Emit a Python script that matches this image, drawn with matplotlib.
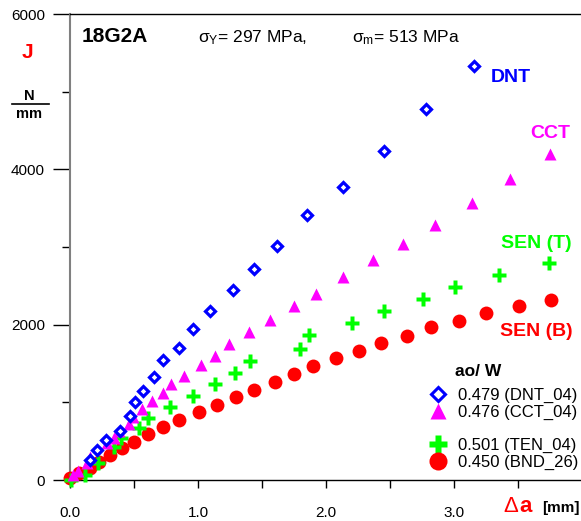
import matplotlib
matplotlib.use("Agg")
import matplotlib.pyplot as plt
from matplotlib.lines import Line2D
from matplotlib.ticker import MultipleLocator, FormatStrFormatter

plt.rcParams['font.family'] = ['Liberation Sans', 'DejaVu Sans']
plt.rcParams['mathtext.fontset'] = 'custom'
plt.rcParams['mathtext.rm'] = 'Liberation Sans'
plt.rcParams['mathtext.it'] = 'Liberation Sans'

# crack growth da [mm] vs J integral [N/mm]
dnt_da = [0.16, 0.21, 0.28, 0.39, 0.47, 0.51, 0.57, 0.66, 0.73, 0.85, 0.96, 1.09,
          1.27, 1.44, 1.62, 1.85, 2.13, 2.45, 2.78, 3.16]
dnt_j = [260, 380, 510, 630, 830, 1000, 1150, 1330, 1540, 1700, 1950, 2180,
         2440, 2720, 3010, 3410, 3770, 4230, 4780, 5330]

cct_da = [0.02, 0.06, 0.13, 0.16, 0.29, 0.34, 0.38, 0.46, 0.49, 0.56, 0.64, 0.73,
          0.79, 0.89, 1.02, 1.13, 1.24, 1.40, 1.56, 1.75, 1.92, 2.13, 2.37, 2.60,
          2.85, 3.14, 3.44, 3.75]
cct_j = [60, 110, 215, 300, 475, 545, 630, 720, 815, 920, 1020, 1125,
         1230, 1345, 1485, 1595, 1750, 1900, 2060, 2240, 2400, 2610, 2830, 3045,
         3280, 3570, 3870, 4200]

ten_da = [0.01, 0.12, 0.22, 0.34, 0.40, 0.54, 0.61, 0.78, 0.96, 1.13, 1.29, 1.41,
          1.80, 1.87, 2.20, 2.45, 2.76, 3.01, 3.35, 3.74]
ten_j = [0, 60, 220, 425, 545, 665, 800, 940, 1080, 1230, 1380, 1535,
         1690, 1865, 2020, 2175, 2330, 2490, 2640, 2790]

bnd_da = [0.00, 0.07, 0.16, 0.23, 0.31, 0.41, 0.50, 0.61, 0.73, 0.85, 1.01, 1.15,
          1.30, 1.44, 1.60, 1.75, 1.90, 2.08, 2.26, 2.43, 2.63, 2.82, 3.04, 3.25,
          3.51, 3.76]
bnd_j = [30, 85, 160, 235, 320, 410, 495, 590, 680, 775, 870, 965,
         1065, 1165, 1265, 1365, 1465, 1565, 1660, 1765, 1855, 1965, 2045, 2145,
         2235, 2315]

legend_labels = ['0.479 (DNT_04)', '0.476 (CCT_04)', '0.501 (TEN_04)', '0.450 (BND_26)']

BLUE = '#0000ff'
MAGENTA = '#ff00ff'
GREEN = '#00ff00'
RED = '#ff0000'

W, H = 581, 521
fig = plt.figure(figsize=(W / 100, H / 100), dpi=100)
ax = fig.add_axes([70 / W, 41 / H, 511 / W, 466 / H])


def fx(px):
    return px / W


def fy(py):
    return 1 - py / H


ax.plot(bnd_da, bnd_j, 'o', color=RED, ms=10, mec='none', clip_on=False, zorder=3)
ax.plot(ten_da, ten_j, 'P', color=GREEN, ms=9.5, mec='none', clip_on=False, zorder=4)
ax.plot(cct_da, cct_j, '^', color=MAGENTA, ms=9, mec='none', clip_on=False, zorder=5)
ax.plot(dnt_da, dnt_j, 'D', mfc='white', mec=BLUE, ms=5.3, mew=2.3, clip_on=False, zorder=6)

ax.set_xlim(0, 511 / 128)
ax.set_ylim(0, 6000)
ax.xaxis.set_major_locator(MultipleLocator(1.0))
ax.xaxis.set_minor_locator(MultipleLocator(0.5))
ax.yaxis.set_major_locator(MultipleLocator(2000))
ax.yaxis.set_minor_locator(MultipleLocator(1000))
ax.xaxis.set_major_formatter(FormatStrFormatter('%.1f'))
ax.tick_params(axis='x', which='both', direction='out', length=6, width=1, pad=13, labelsize=11)
ax.tick_params(axis='y', which='major', direction='out', length=12, width=1, pad=6, labelsize=11)
ax.tick_params(axis='y', which='minor', direction='out', length=6, width=1)

ax.spines['left'].set_color('#808080')
ax.spines['left'].set_linewidth(1.5)
ax.spines['right'].set_visible(False)
ax.spines['top'].set_linewidth(1)
ax.spines['bottom'].set_linewidth(1)

# headline texts
fig.text(fx(82), fy(36), '18G2A', fontsize=15, fontweight='bold', va='center')
fig.text(fx(198), fy(38), 'σ$_\\mathrm{Y}$= 297 MPa,', fontsize=12.5, va='center')
fig.text(fx(352), fy(38), 'σ$_\\mathrm{m}$= 513 MPa', fontsize=12.5, va='center')

# y axis unit
fig.text(fx(27), fy(53), 'J', fontsize=15, fontweight='bold', color=RED, ha='center', va='center')
fig.text(fx(29), fy(96), 'N', fontsize=10.5, fontweight='bold', ha='center', va='center')
fig.add_artist(Line2D([fx(12), fx(49)], [fy(104), fy(104)], color='black', lw=1.2))
fig.text(fx(29), fy(114), 'mm', fontsize=10.5, fontweight='bold', ha='center', va='center')

# x axis unit
fig.text(fx(503), fy(507), 'Δ', fontsize=16, color=RED, va='center')
fig.text(fx(519), fy(507), 'a', fontsize=16, fontweight='bold', color=RED, va='center')
fig.text(fx(542), fy(508), '[mm]', fontsize=11, fontweight='bold', va='center')

# series names
fig.text(fx(491), fy(78), 'DNT', fontsize=14, fontweight='bold', color=BLUE, va='center')
fig.text(fx(530), fy(133), 'CCT', fontsize=14, fontweight='bold', color=MAGENTA, va='center')
fig.text(fx(501), fy(243), 'SEN (T)', fontsize=14, fontweight='bold', color=GREEN, va='center')
fig.text(fx(500), fy(332), 'SEN (B)', fontsize=14, fontweight='bold', color=RED, va='center')

fig.text(fx(455), fy(371), 'ao/ W', fontsize=12.5, fontweight='bold', va='center')

handles = [
    Line2D([], [], ls='none', marker='D', mfc='white', mec=BLUE, ms=7, mew=2.2),
    Line2D([], [], ls='none', marker='^', color=MAGENTA, mec='none', ms=12),
    Line2D([], [], ls='none'),
    Line2D([], [], ls='none', marker='P', color=GREEN, mec='none', ms=13),
    Line2D([], [], ls='none', marker='o', color=RED, mec='none', ms=13),
]
labels = [legend_labels[0], legend_labels[1], '', legend_labels[2], legend_labels[3]]
fig.legend(handles, labels, loc='upper left', bbox_to_anchor=(fx(430), fy(388)),
           frameon=False, fontsize=12, handlelength=1.0, handletextpad=0.65,
           labelspacing=0.1, borderpad=0, borderaxespad=0)

fig.savefig('out.png', dpi=100)
